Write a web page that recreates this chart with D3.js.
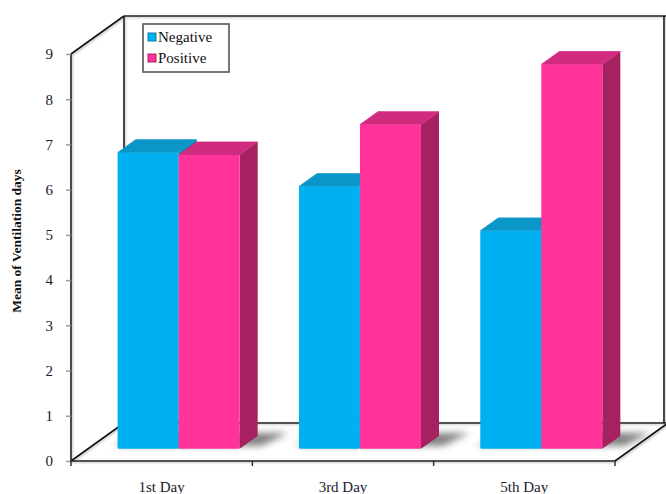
<!DOCTYPE html>
<html>
<head>
<meta charset="utf-8">
<script src="https://cdn.jsdelivr.net/npm/d3@7"></script>
<style>
  html, body { margin: 0; padding: 0; background: #fff; }
  svg { display: block; font-family: "Liberation Serif", "Times New Roman", serif; }
</style>
</head>
<body>
<svg id="chart" width="666" height="494"></svg>
<script>
// Mean ventilation days by sampling day and result
const categories = ["1st Day", "3rd Day", "5th Day"];
const seriesNames = ["Negative", "Positive"];
const negativeValues = [6.55, 5.8, 4.82];
const positiveValues = [6.5, 7.17, 8.5];
const yTicks = [0, 1, 2, 3, 4, 5, 6, 7, 8, 9];

const seriesValues = [negativeValues, positiveValues];
const palette = {
  Negative: { front: "#00B0F0", top: "#0B96C8", side: "#0A7FAA" },
  Positive: { front: "#FF3399", top: "#D12B80", side: "#A5215F" }
};

const svg = d3.select("#chart");

// Front plane of the 3D box
const left = 71, right = 615, bottom = 461, topY = 54;
// full depth offset of the box (front -> back)
const DX = 53, DY = -38;
const proj = (x, y, d) => [x + d * DX, y + d * DY];

const y = d3.scaleLinear().domain([0, 9]).range([bottom, topY]);
const x0 = d3.scaleBand().domain(categories).range([left, right]).paddingInner(0.327).paddingOuter(0.1635);
const x1 = d3.scaleBand().domain(seriesNames).range([0, x0.bandwidth()]);

// Bars occupy this depth slice
const dFront = 0.32, dBack = 0.66;

const defs = svg.append("defs");
defs.append("filter").attr("id", "soft").attr("x", "-50%").attr("y", "-50%").attr("width", "200%").attr("height", "200%")
  .append("feGaussianBlur").attr("stdDeviation", 3.5);
defs.append("filter").attr("id", "lineShadow")
  .append("feDropShadow").attr("dx", 1).attr("dy", 1).attr("stdDeviation", 0.8).attr("flood-color", "#888").attr("flood-opacity", 0.6);

const lineG = svg.append("g").attr("stroke", "#111").attr("stroke-width", 1.6).attr("fill", "none").attr("filter", "url(#lineShadow)");
const seg = (a, b) => lineG.append("line").attr("x1", a[0]).attr("y1", a[1]).attr("x2", b[0]).attr("y2", b[1]);

// Back wall and floor edges
seg(proj(left, y(9), 1), [666, proj(left, y(9), 1)[1]]);
seg(proj(left, y(9), 1), proj(left, y(0), 1));
seg(proj(left, y(0), 1), proj(right, y(0), 1));
seg([664, proj(left, y(9), 1)[1]], [664, proj(right, y(0), 1)[1]]);
seg(proj(left, y(9), 0), proj(left, y(9), 1));
seg(proj(left, y(0), 0), proj(left, y(0), 1));
seg(proj(right, y(0), 0), proj(right, y(0), 1));

// Floor shadows cast behind and to the right of each bar pair
const shadowG = svg.append("g");
categories.forEach((c) => {
  const xa = x0(c), xb = x0(c) + x0.bandwidth();
  const p = [proj(xa - 4, y(0) - 3, dFront), proj(xb + 22, y(0) - 3, dFront), proj(xb + 26, y(0), dBack + 0.08), proj(xa + 4, y(0), dBack + 0.08)];
  shadowG.append("polygon").attr("points", p.map(q => q.join(",")).join(" "))
    .attr("fill", "#555").attr("opacity", 0.75).attr("filter", "url(#soft)");
});

// Bars: front, top and right side faces
const barG = svg.append("g");
categories.forEach((c, ci) => {
  seriesNames.forEach((s, si) => {
    const v = seriesValues[si][ci];
    const xa = x0(c) + x1(s), xb = xa + x1.bandwidth();
    const col = palette[s];
    const fTL = proj(xa, y(v), dFront), fTR = proj(xb, y(v), dFront);
    const fBL = proj(xa, y(0), dFront), fBR = proj(xb, y(0), dFront);
    const bTL = proj(xa, y(v), dBack), bTR = proj(xb, y(v), dBack), bBR = proj(xb, y(0), dBack);
    const poly = pts => pts.map(q => q.join(",")).join(" ");
    barG.append("polygon").attr("points", poly([fTR, bTR, bBR, fBR])).attr("fill", col.side);
    barG.append("polygon").attr("points", poly([fTL, fTR, bTR, bTL])).attr("fill", col.top)
      .attr("stroke", col.top).attr("stroke-width", 0.8).attr("stroke-linejoin", "round");
    barG.append("rect").attr("x", fTL[0]).attr("y", fTL[1]).attr("width", fTR[0] - fTL[0]).attr("height", fBL[1] - fTL[1])
      .attr("fill", col.front).attr("rx", 1.5);
  });
});

// Front axis lines
seg([left, topY], [left, bottom]);
seg([left, bottom], [right, bottom]);

// Y axis ticks and labels
const yAxis = d3.axisLeft(y).tickValues(yTicks).tickSize(5).tickPadding(13).tickFormat(d3.format("d"));
const ya = svg.append("g").attr("transform", `translate(${left},0)`).call(yAxis);
ya.select(".domain").remove();
ya.selectAll(".tick line").attr("stroke", "#999").attr("stroke-width", 1.5);
ya.selectAll(".tick text").attr("font-family", "Liberation Serif, serif").attr("font-size", 15).attr("fill", "#1b1b2e");

// X axis ticks (category boundaries) and labels
const step = (right - left) / categories.length;
const xa = svg.append("g");
d3.range(categories.length + 1).forEach(i => {
  xa.append("line").attr("x1", left + i * step).attr("x2", left + i * step).attr("y1", bottom).attr("y2", bottom + 5)
    .attr("stroke", "#333").attr("stroke-width", 1.5);
});
categories.forEach((c, i) => {
  xa.append("text").attr("x", left + (i + 0.5) * step).attr("y", 492).attr("text-anchor", "middle")
    .attr("font-size", 15).attr("fill", "#1b1b2e").text(c);
});

// Y axis title
svg.append("text").attr("transform", "translate(21,241) rotate(-90)").attr("text-anchor", "middle")
  .attr("font-size", 13.5).attr("font-weight", "bold").attr("fill", "#111").text("Mean of Ventilation days");

// Legend
const leg = svg.append("g").attr("transform", "translate(143,24)");
leg.append("rect").attr("width", 86).attr("height", 48).attr("fill", "#fff").attr("stroke", "#555").attr("stroke-width", 1.6);
seriesNames.forEach((s, i) => {
  const g = leg.append("g").attr("transform", `translate(5,${9 + i * 21})`);
  g.append("rect").attr("width", 8).attr("height", 8).attr("fill", palette[s].front).attr("stroke", palette[s].side).attr("stroke-width", 1);
  g.append("text").attr("x", 10).attr("y", 8.5).attr("font-size", 15).attr("fill", "#111").text(s);
});
</script>
</body>
</html>
